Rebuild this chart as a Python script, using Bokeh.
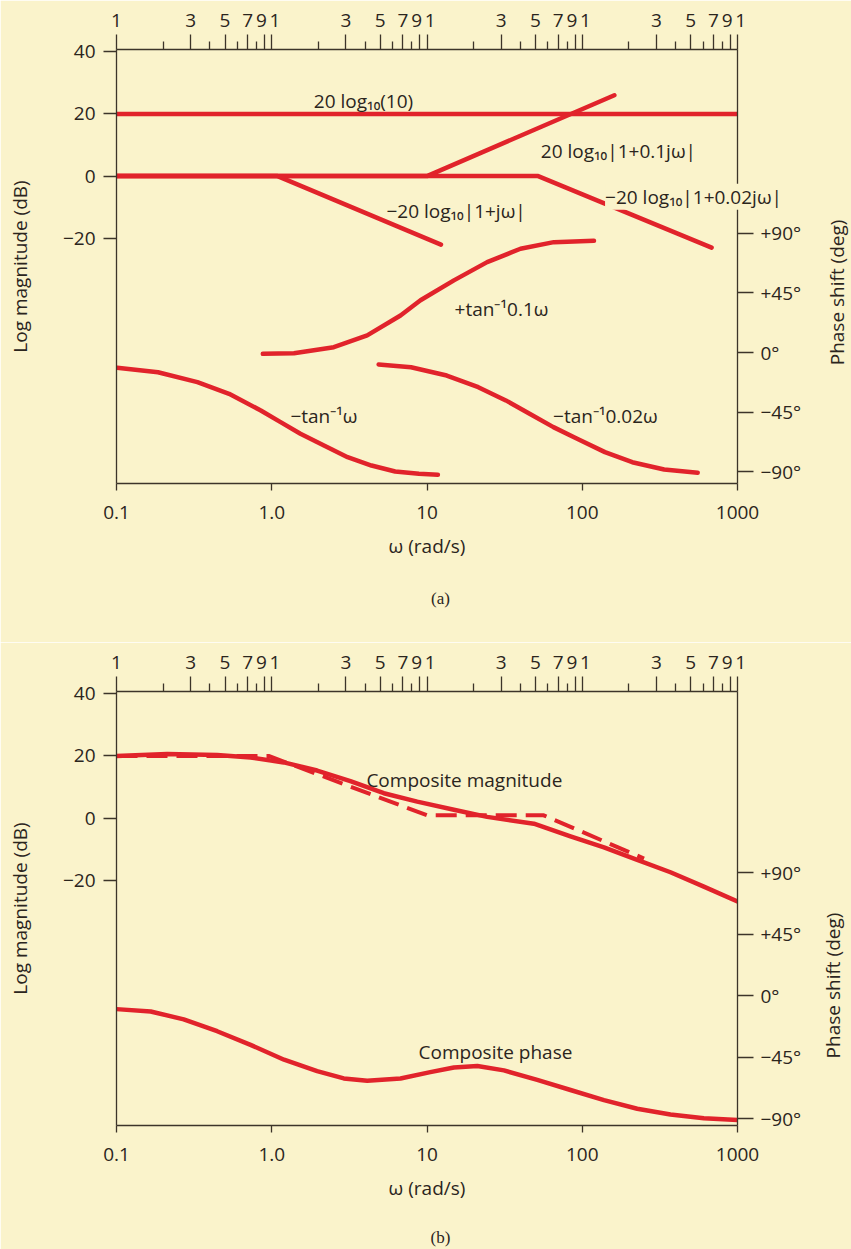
import math
from bokeh.plotting import figure
from bokeh.models import LogAxis, LinearAxis, FixedTicker, Range1d, Label
from bokeh.layouts import column
from bokeh.embed import file_html
from bokeh.resources import INLINE

BG = "#FAF3CB"
RED = "#E1232B"
INK = "#2B251D"
RULE = "#3C3429"
FONT = "Open Sans"
SERIF = "Liberation Serif"
FS = "19px"

# ---------------- data ----------------
decades = [0.1, 1, 10, 100, 1000]
decade_labels = ["0.1", "1.0", "10", "100", "1000"]
top_labeled = [1, 3, 5, 7, 9]
top_unlabeled = [2, 4, 6, 8]
db_ticks = [40, 20, 0, -20]
db_labels = ["40", "20", "0", "\u221220"]
phase_ticks = [90, 45, 0, -45, -90]
phase_labels = ["+90\u00b0", "+45\u00b0", "0\u00b0", "\u221245\u00b0", "\u221290\u00b0"]

# panel (a): straight-line asymptotes (omega, dB)
gain_w = [0.1, 1000]
gain_db = [20, 20]
zero_w = [0.1, 10, 161]
zero_db = [0, 0, 26]
pole1_w = [0.1, 1.09, 12.3]
pole1_db = [0, 0, -22]
pole2_w = [0.1, 52, 681]
pole2_db = [0, 0, -23]

# panel (a): phase curves (omega, degrees)
pole1_ph_w = [0.101, 0.185, 0.332, 0.531, 0.85, 1.14, 1.53, 2.17, 3.08, 4.39, 6.24, 8.87, 11.75]
pole1_ph = [-11.5, -14.9, -22.4, -31.2, -43.8, -52.6, -61.4, -70.3, -79.1, -85.4, -89.9, -91.7, -92.4]
zero_ph_w = [0.876, 1.39, 2.51, 4.12, 6.75, 9.08, 14.9, 24.4, 40.0, 65.6, 119]
zero_ph = [-1.0, -0.5, 4.0, 12.9, 28.0, 39.5, 54.5, 68.3, 78.4, 83.4, 84.4]
pole2_ph_w = [4.88, 7.89, 13.4, 21.4, 32.2, 45.8, 65.2, 92.7, 140, 210, 337, 554]
pole2_ph = [-9.0, -11.1, -17.4, -26.2, -36.2, -46.3, -56.4, -65.2, -75.3, -82.9, -88.4, -90.9]

# panel (b): composite magnitude (solid) and its asymptote (dashed)
mag_w = [0.1, 0.212, 0.445, 0.73, 1.196, 1.96, 3.21, 5.27, 8.65, 14.9, 24.4, 48.8,
         84, 138, 226, 370, 607, 1000]
mag_db = [20.0, 20.6, 20.3, 19.5, 17.9, 15.3, 11.9, 8.0, 5.3, 2.7, 0.4, -1.8,
          -5.9, -9.4, -13.4, -17.4, -22.0, -26.8]
asym_w = [0.1, 0.955, 10, 56.5, 250]
asym_db = [20, 20, 0.9, 0.9, -13.0]

# panel (b): composite phase
phase_w = [0.1, 0.166, 0.271, 0.445, 0.73, 1.2, 1.96, 2.91, 4.12, 6.75, 10.5, 14.9,
           21.1, 31.3, 51.3, 84, 138, 226, 370, 607, 1000]
phase_deg = [-9.8, -11.5, -17.3, -26.0, -36.0, -46.9, -55.3, -60.6, -62.3, -60.6, -56.0,
             -52.6, -51.5, -54.7, -61.7, -69.1, -76.5, -82.8, -87.1, -89.8, -91.1]

DB_RANGE = (-98.8, 40.7)
PHASE_RANGE_A = (-99.0, 229.0)
PHASE_RANGE_B = (-95.1, 223.0)

FRAME_TOP = 49
FRAME_H = 434


def style_axis(ax, tick_out, standoff):
    ax.axis_line_color = RULE
    ax.axis_line_width = 1.3
    ax.major_tick_line_color = RULE
    ax.major_tick_line_width = 1.3
    ax.minor_tick_line_color = RULE
    ax.minor_tick_line_width = 1.3
    ax.major_tick_in = 0
    ax.minor_tick_in = 0
    ax.major_tick_out = tick_out
    ax.major_label_standoff = standoff
    ax.major_label_text_font = FONT
    ax.major_label_text_font_size = FS
    ax.major_label_text_color = INK
    ax.axis_label_text_font = FONT
    ax.axis_label_text_font_size = FS
    ax.axis_label_text_font_style = "normal"
    ax.axis_label_text_color = INK


def base_fig(height, phase_range, bottom_end=1000):
    p = figure(width=851, height=height, x_axis_type="log",
               x_range=Range1d(0.1, 1000), y_range=Range1d(*DB_RANGE),
               output_backend="svg", toolbar_location=None,
               min_border_left=116, min_border_right=114, min_border_top=FRAME_TOP,
               min_border_bottom=height - FRAME_TOP - FRAME_H,
               background_fill_color=BG, border_fill_color=BG,
               outline_line_color=None)
    p.grid.visible = False
    p.extra_y_ranges = {"phase": Range1d(*phase_range)}

    # bottom: omega decades
    xb = p.below[0]
    xb.ticker = FixedTicker(ticks=decades)
    xb.major_label_overrides = dict(zip(decades, decade_labels))
    xb.axis_label = "\u03c9 (rad/s)"
    xb.bounds = (0.1, bottom_end)
    style_axis(xb, 7, 15)
    xb.axis_label_standoff = 11

    # left: dB
    yl = p.left[0]
    yl.ticker = FixedTicker(ticks=db_ticks)
    yl.major_label_overrides = dict(zip(db_ticks, db_labels))
    yl.axis_label = "Log magnitude (dB)"
    style_axis(yl, 13, 8)
    yl.axis_label_standoff = 27

    # top: 1..9 within each decade
    tmaj, tlab, tmin = [], [], []
    for d in decades[:-1]:
        for m in top_labeled:
            tmaj.append(round(d * m, 6))
            if m == 1 and d > 0.1:
                tlab.append("\u20041")
            elif m == 9:
                tlab.append("9\u2004")
            else:
                tlab.append(str(m))
        for m in top_unlabeled:
            tmin.append(round(d * m, 6))
    tmaj.append(1000)
    tlab.append("\u20041")
    xt = LogAxis(ticker=FixedTicker(ticks=tmaj, minor_ticks=tmin),
                 major_label_overrides=dict(zip(tmaj, tlab)))
    style_axis(xt, 15, 2)
    xt.minor_tick_out = 8
    p.add_layout(xt, "above")

    # right: phase
    yr = LinearAxis(y_range_name="phase", ticker=FixedTicker(ticks=phase_ticks),
                    major_label_overrides=dict(zip(phase_ticks, phase_labels)))
    style_axis(yr, 16, 7)
    p.add_layout(yr, "right")
    return p


def note(p, x, y, text, side="center", **kw):
    opts = dict(text_font=FONT, text_font_size=FS, text_color=INK,
                text_align="center", text_baseline="alphabetic")
    opts.update(kw)
    lab = Label(x=x, y=y, text=text, **opts)
    p.add_layout(lab, side)
    return lab


def curve(p, w, v, **kw):
    p.line(w, v, line_color=RED, line_width=4.5, line_cap="round", line_join="round", **kw)


# ---------------- panel (a) ----------------
pa = base_fig(642, PHASE_RANGE_A, bottom_end=1250)
for w, v in [(gain_w, gain_db), (zero_w, zero_db), (pole1_w, pole1_db), (pole2_w, pole2_db)]:
    curve(pa, w, v)
for w, v in [(pole1_ph_w, pole1_ph), (zero_ph_w, zero_ph), (pole2_ph_w, pole2_ph)]:
    curve(pa, w, v, y_range_name="phase")

note(pa, 3.90, 24.3, "20 log\u2081\u2080(10)")
note(pa, 171, 8.2, "20 log\u2081\u2080|1+0.1j\u03c9|")
note(pa, 15.4, -11.3, "\u221220 log\u2081\u2080|1+j\u03c9|")
note(pa, 30.2, -42.6, "+tan\u207b\u00b90.1\u03c9")
note(pa, 2.17, -77.2, "\u2212tan\u207b\u00b9\u03c9")
note(pa, 141, -77.2, "\u2212tan\u207b\u00b90.02\u03c9")
# this one crosses the right frame edge, so it lives in a side panel (not clipped)
note(pa, 521, -6.6, "\u221220 log\u2081\u2080|1+0.02j\u03c9|", side="below",
     background_fill_color=BG)
note(pa, 12.2, -135.8, "(a)", side="below", text_font=SERIF, text_font_size="17px")
note(pa, 4342, 45.4, "Phase shift (deg)", side="right", angle=math.pi / 2,
     text_baseline="middle", y_range_name="phase")

# ---------------- panel (b) ----------------
pb = base_fig(607, PHASE_RANGE_B)
pb.line(asym_w, asym_db, line_color=RED, line_width=4, line_dash="21 9")
curve(pb, mag_w, mag_db)
curve(pb, phase_w, phase_deg, y_range_name="phase")
note(pb, 17.4, 12.4, "Composite magnitude")
note(pb, 27.6, -75.3, "Composite phase")
note(pb, 12.2, -134.9, "(b)", side="below", text_font=SERIF, text_font_size="17px")
note(pb, 4152, 7.5, "Phase shift (deg)", side="right", angle=math.pi / 2,
     text_baseline="middle", y_range_name="phase")

layout = column(pa, pb)
open("out.html", "w").write(file_html(layout, INLINE, title="Bode plot"))
